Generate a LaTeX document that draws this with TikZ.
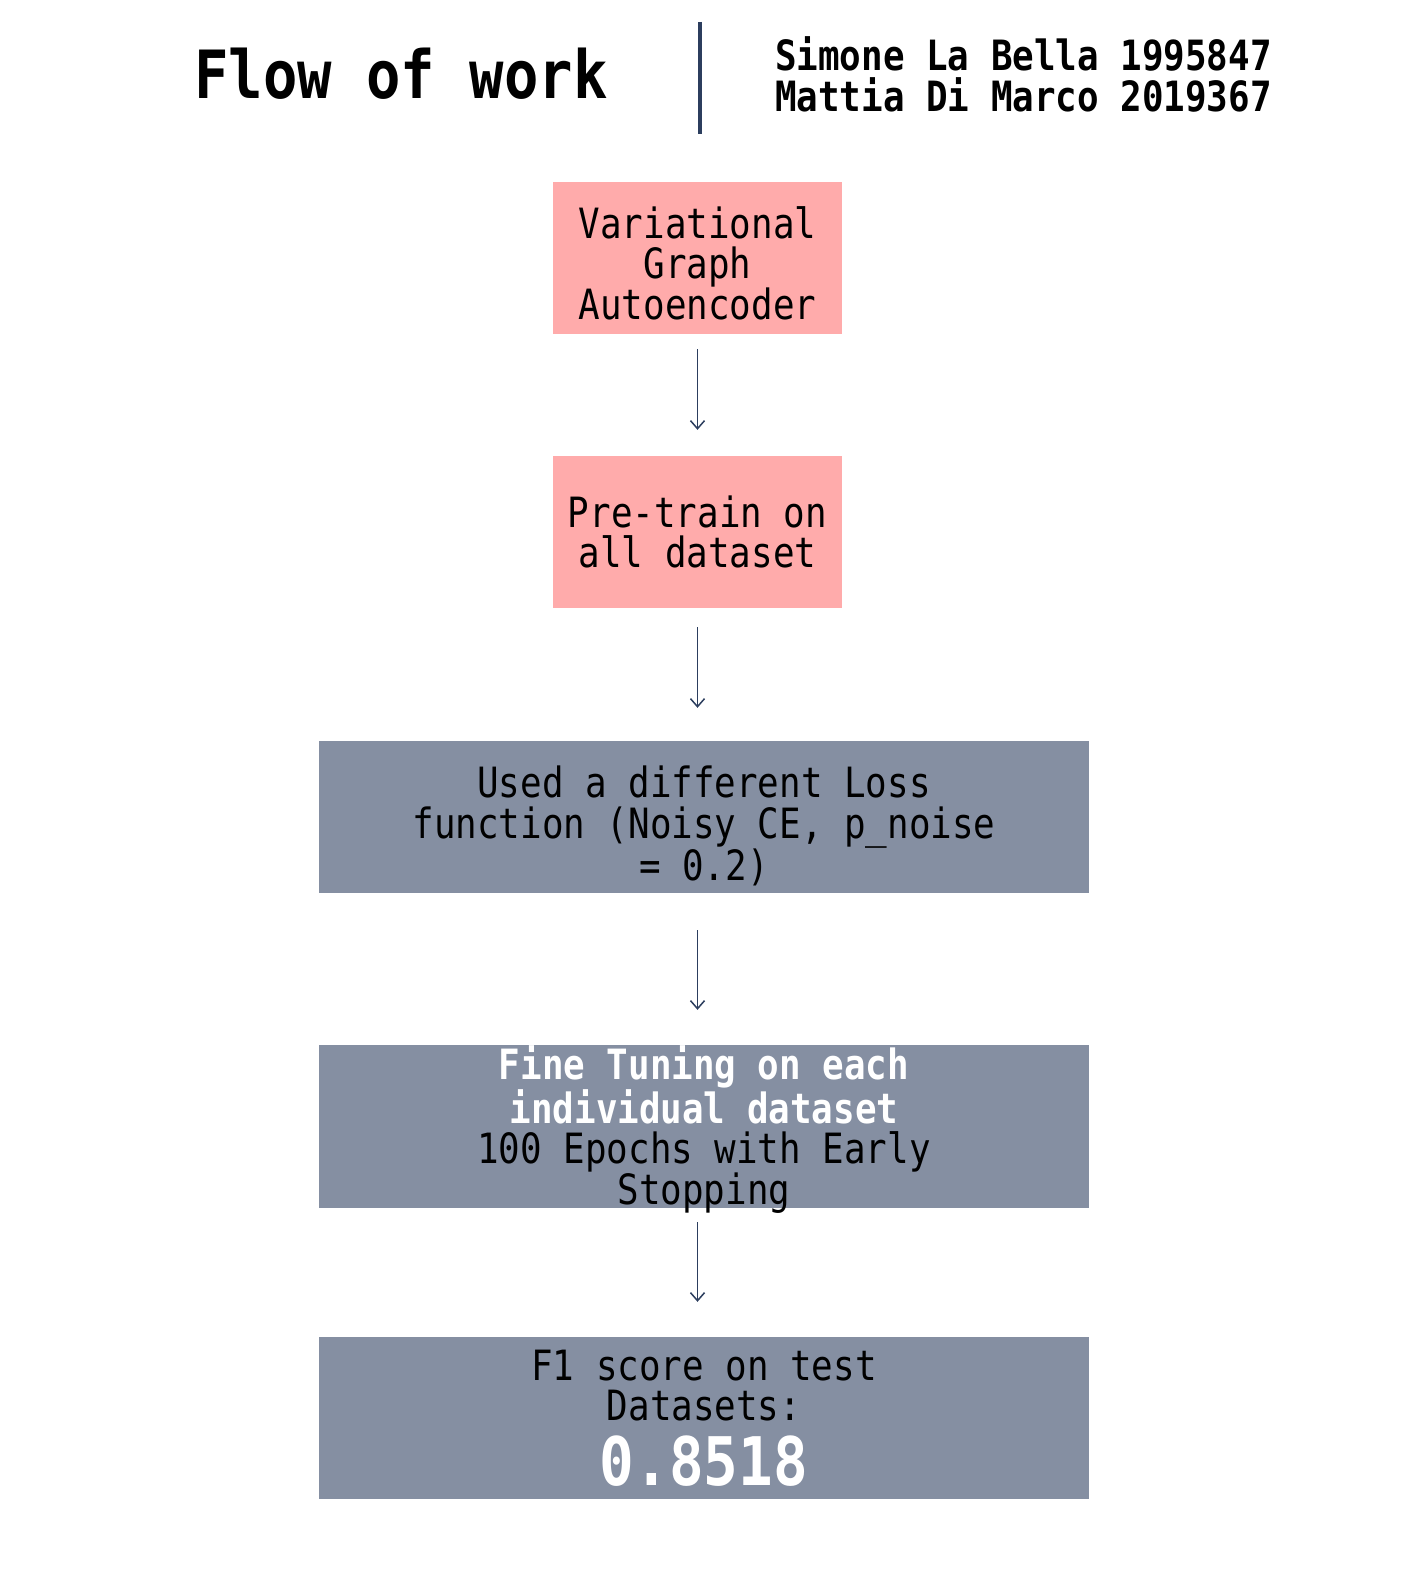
\documentclass[tikz,border=0pt]{standalone}
\usepackage{fontspec}
\usetikzlibrary{arrows.meta}
\newfontfamily\monof[FakeStretch=0.86]{DejaVu Sans Mono}
\definecolor{pinkbox}{HTML}{FFABAB}
\definecolor{graybox}{HTML}{858FA2}
\definecolor{navy}{HTML}{2C3E5E}
\begin{document}
\begin{tikzpicture}[x=1pt,y=-1pt,
  boxtext/.style={inner sep=0pt, align=center, font=\monof\fontsize{41.7}{40.4}\selectfont},
  pinkstep/.style={rectangle, inner sep=0pt, fill=pinkbox, minimum width=289pt, minimum height=152pt},
  graystep/.style={rectangle, inner sep=0pt, fill=graybox, minimum width=770pt},
  arr/.style={draw=navy, line width=1.5pt, -{Straight Barb[length=8pt,width=14pt]}},
  ]
\useasboundingbox (0,0) rectangle (1408,1579);
\fill[white] (0,0) rectangle (1408,1579);
\node[font=\monof\bfseries\fontsize{66.5}{66}\selectfont] (title) at (401,74) {Flow of work};
\coordinate (vtop) at (700,22);
\coordinate (vbot) at (700,134);
\draw[navy, line width=4pt] (vtop) -- (vbot);
\node[anchor=west, align=left, inner sep=0pt, font=\monof\bfseries\fontsize{41.7}{40.4}\selectfont] (names) at (775,74.5) {Simone La Bella 1995847\\Mattia Di Marco 2019367};
\node[pinkstep] (b1) at (697.5,258) {};
\node[boxtext] (t1) at ([yshift=-5pt]b1.center) {Variational\\Graph\\Autoencoder};
\node[pinkstep] (b2) at (697.5,532) {};
\node[boxtext] (t2) at (b2.center) {Pre-train on\\all dataset};
\node[graystep, minimum height=152pt] (b3) at (704,817) {};
\node[boxtext] (t3) at ([yshift=-9pt]b3.center) {Used a different Loss\\function (Noisy CE, p\_noise\\= 0.2)};
\node[graystep, minimum height=163pt] (b4) at (704,1126.5) {};
\node[boxtext] (t4) at ([yshift=-3pt]b4.center) {\textcolor{white}{\bfseries Fine Tuning on each}\\\textcolor{white}{\bfseries individual dataset}\\100 Epochs with Early\\Stopping};
\node[graystep, minimum height=162pt] (b5) at (704,1418) {};
\node[boxtext] (t5) at (b5.center) {F1 score on test\\Datasets:\\[13pt]\textcolor{white}{\bfseries\fontsize{67}{67}\selectfont 0.8518}};
\draw[arr, shorten <=15pt, shorten >=26pt] (b1.south) -- (b2.north);
\draw[arr, shorten <=19pt, shorten >=33pt] (b2.south) -- (b3.north -| b2.south);
\draw[arr, shorten <=37pt, shorten >=35pt] (b3.south -| b2.south) -- (b4.north -| b2.south);
\draw[arr, shorten <=14pt, shorten >=35pt] (b4.south -| b2.south) -- (b5.north -| b2.south);
\end{tikzpicture}
\end{document}
